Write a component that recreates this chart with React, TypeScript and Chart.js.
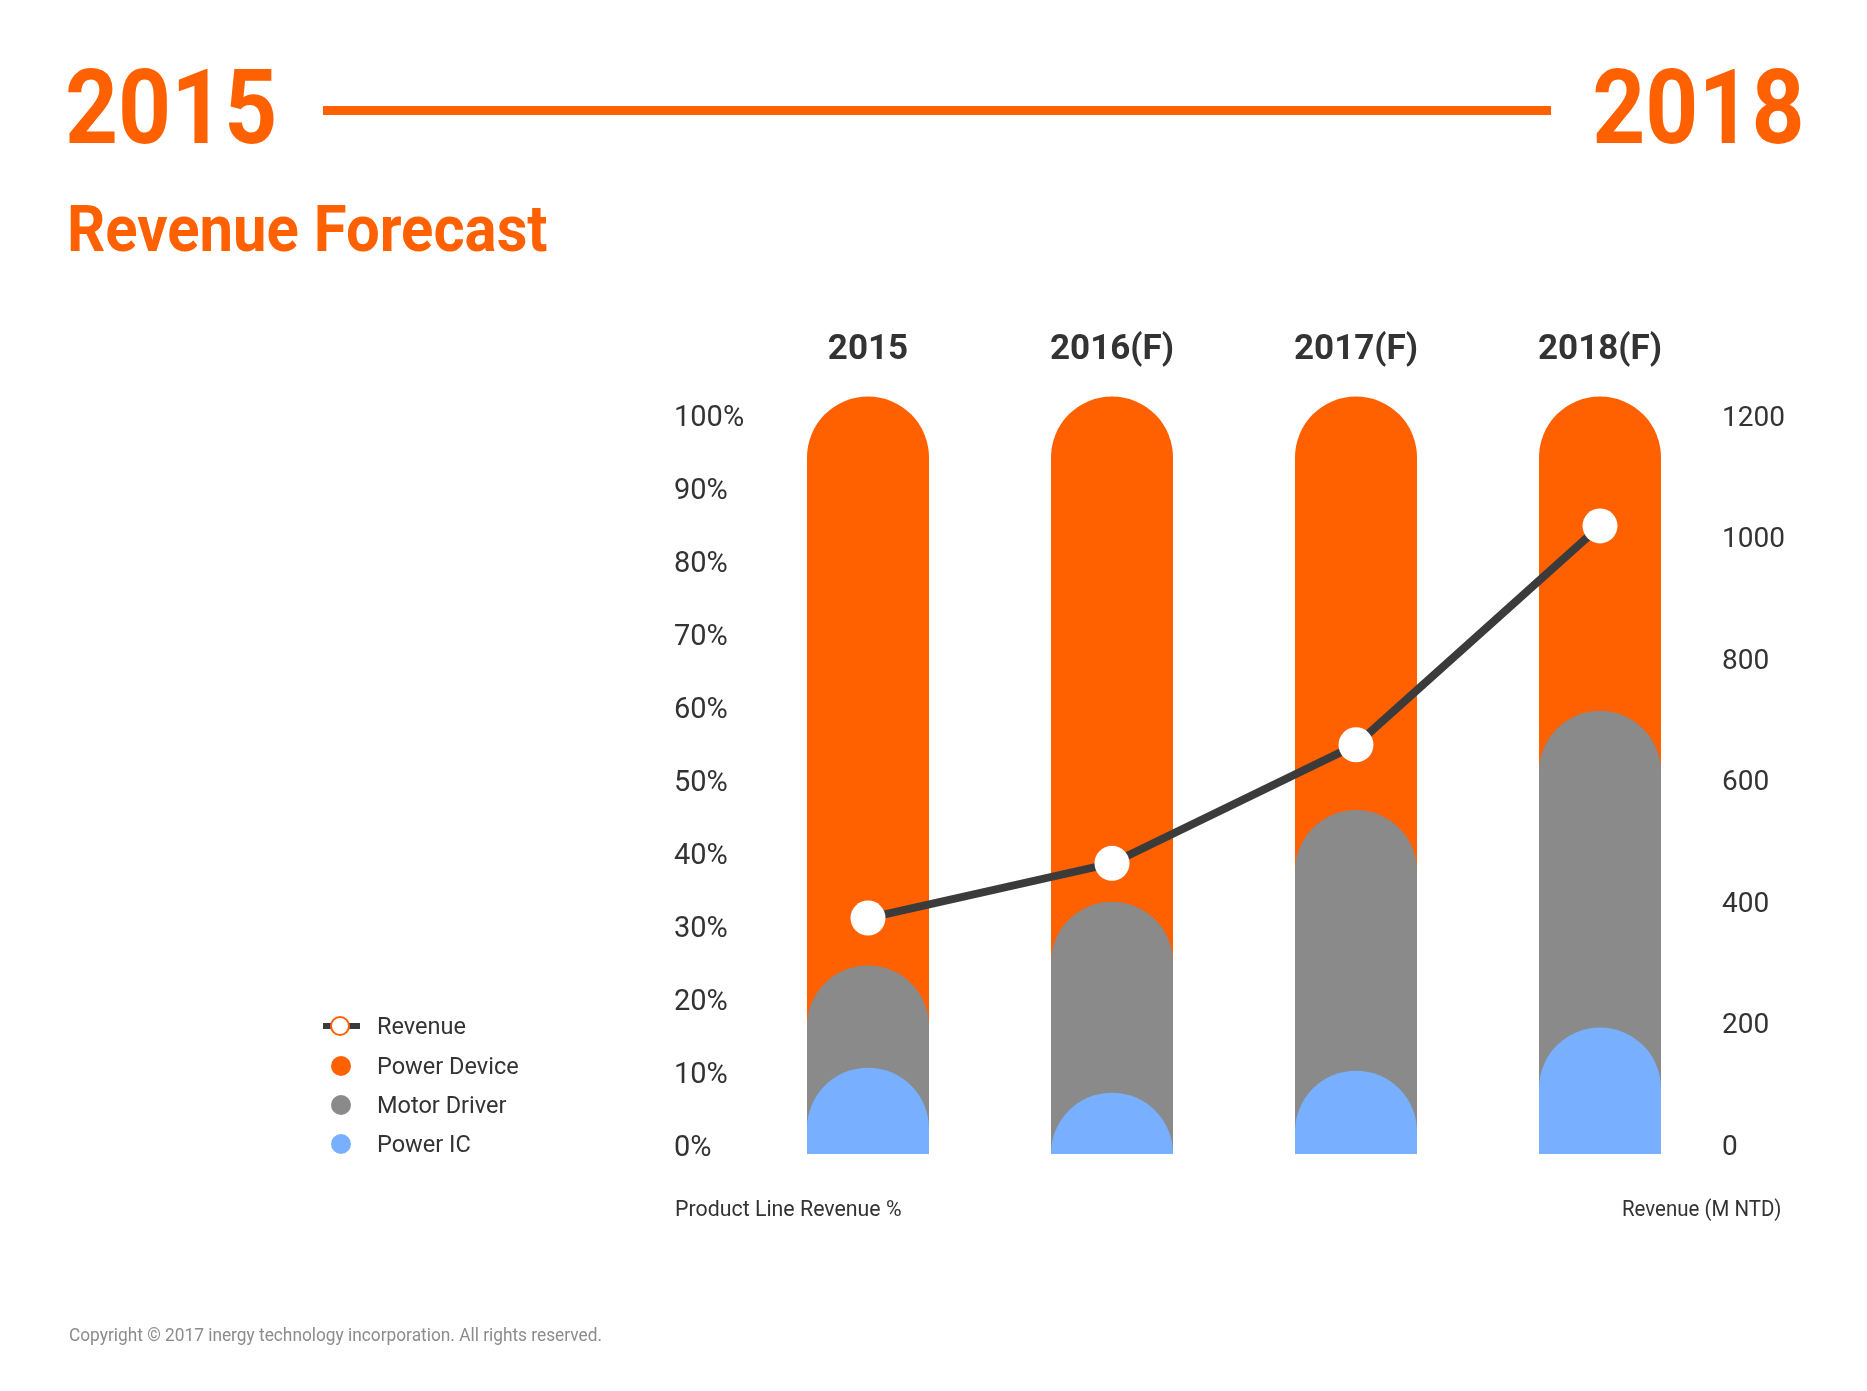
import React, { useEffect, useRef } from 'react';
import { Chart, registerables } from 'chart.js';

Chart.register(...registerables);

// ---- data ----
const categories = ['2015', '2016(F)', '2017(F)', '2018(F)'];
// product line share of revenue (%)
const powerIC = [11.4, 8.1, 11.0, 16.7];
const motorDriver = [13.5, 25.2, 34.4, 41.8];
const powerDevice = [75.1, 66.7, 54.6, 41.5];
// revenue (M NTD)
const revenue = [375, 465, 660, 1020];
const percentTicks = [0, 10, 20, 30, 40, 50, 60, 70, 80, 90, 100];
const revenueTicks = [0, 200, 400, 600, 800, 1000, 1200];

const ORANGE = '#FF6000';
const GREY = '#8A8A8A';
const BLUE = '#78AFFF';
const LINE = '#3B3B3B';
const TEXT = '#333333';
const FONT = 'Roboto, "Noto Sans", sans-serif';

// overlapping bars: each drawn from 0 to the cumulative share
const blueTop = powerIC.map((v) => v);
const greyTop = powerIC.map((v, i) => v + motorDriver[i]);
const orangeTop = powerIC.map((v, i) => v + motorDriver[i] + powerDevice[i]);

const capsulePlugin = {
  id: 'capsuleBars',
  beforeDatasetDraw(chart: any, args: any) {
    const ds = chart.data.datasets[args.index];
    if (ds.type !== 'bar') return;
    const ctx = chart.ctx;
    ctx.save();
    ctx.fillStyle = ds.backgroundColor;
    args.meta.data.forEach((el: any) => {
      const { x, y, base, width } = el.getProps(['x', 'y', 'base', 'width'], true);
      const r = width / 2;
      ctx.beginPath();
      ctx.moveTo(x - r, base);
      ctx.lineTo(x - r, y + r);
      ctx.arc(x, y + r, r, Math.PI, 0);
      ctx.lineTo(x + r, base);
      ctx.closePath();
      ctx.fill();
    });
    ctx.restore();
    return false;
  },
};

const abs = (extra: any): any => ({ position: 'absolute', whiteSpace: 'nowrap', fontFamily: FONT, lineHeight: 1, ...extra });

export default function App() {
  const ref = useRef<HTMLCanvasElement | null>(null);

  useEffect(() => {
    if (!ref.current) return;
    const chart = new Chart(ref.current, {
      type: 'bar',
      data: {
        labels: categories,
        datasets: [
          {
            type: 'line',
            label: 'Revenue',
            data: revenue,
            yAxisID: 'y1',
            borderColor: LINE,
            borderWidth: 8,
            pointRadius: 17.5,
            pointBackgroundColor: '#FFFFFF',
            pointBorderColor: '#FFFFFF',
            pointBorderWidth: 0,
            tension: 0,
            order: 0,
            clip: false,
          } as any,
          {
            type: 'bar',
            label: 'Power IC',
            data: blueTop,
            yAxisID: 'yBar',
            backgroundColor: BLUE,
            grouped: false,
            barThickness: 122,
            order: 1,
          } as any,
          {
            type: 'bar',
            label: 'Motor Driver',
            data: greyTop,
            yAxisID: 'yBar',
            backgroundColor: GREY,
            grouped: false,
            barThickness: 122,
            order: 2,
          } as any,
          {
            type: 'bar',
            label: 'Power Device',
            data: orangeTop,
            yAxisID: 'yBar',
            backgroundColor: ORANGE,
            grouped: false,
            barThickness: 122,
            order: 3,
          } as any,
        ],
      },
      options: {
        responsive: false,
        animation: false,
        devicePixelRatio: 1,
        layout: { padding: { left: 674, right: 0, top: 296.5, bottom: 237 } },
        plugins: { legend: { display: false }, tooltip: { enabled: false } },
        scales: {
          x: {
            position: 'top',
            offset: true,
            grid: { display: false, drawTicks: false },
            border: { display: false },
            ticks: { color: TEXT, font: { family: FONT, size: 35, weight: 'bold' }, padding: 25 },
            afterFit(s: any) { s.height = 100; },
          },
          y: {
            position: 'left',
            min: -1.097,
            max: 102.74,
            grid: { display: false, drawTicks: false },
            border: { display: false },
            ticks: {
              color: TEXT,
              font: { family: FONT, size: 29 },
              crossAlign: 'far',
              autoSkip: false,
              padding: 0,
              labelOffset: 2.5,
              callback: (v: any) => v + '%',
            },
            afterBuildTicks(s: any) { s.ticks = percentTicks.map((v) => ({ value: v })); },
            afterFit(s: any) { s.width = 72; },
          },
          yBar: { display: false, min: 0, max: 100 },
          y1: {
            position: 'right',
            min: -13.16,
            max: 1232.9,
            grid: { display: false, drawTicks: false },
            border: { display: false },
            ticks: {
              color: TEXT,
              font: { family: FONT, size: 28 },
              autoSkip: false,
              padding: 0,
              labelOffset: 2,
              callback: (v: any) => String(v),
            },
            afterBuildTicks(s: any) { s.ticks = revenueTicks.map((v) => ({ value: v })); },
            afterFit(s: any) { s.width = 145; },
          },
        } as any,
      },
      plugins: [capsulePlugin],
    });
    return () => chart.destroy();
  }, []);

  const legendRows = [
    { label: 'Revenue', y: 1026, kind: 'line' },
    { label: 'Power Device', y: 1066, color: ORANGE },
    { label: 'Motor Driver', y: 1105, color: GREY },
    { label: 'Power IC', y: 1144, color: BLUE },
  ];

  return (
    <div style={{ position: 'absolute', left: 0, top: 0, width: 1867, height: 1391, background: '#fff', overflow: 'hidden' }}>
      <canvas ref={ref} width={1867} height={1391} style={{ position: 'absolute', left: 0, top: 0, width: 1867, height: 1391 }} />
      <div style={abs({ left: 65, top: 56, fontSize: 104, fontWeight: 700, color: ORANGE, transform: 'scaleX(0.89)', transformOrigin: 'left top' })}>2015</div>
      <div style={{ position: 'absolute', left: 323, top: 106, width: 1228, height: 9, background: ORANGE }} />
      <div style={abs({ right: 1867 - 1805, top: 56, fontSize: 104, fontWeight: 700, color: ORANGE, transform: 'scaleX(0.89)', transformOrigin: 'right top' })}>2018</div>
      <div style={abs({ left: 67, top: 198, fontSize: 64, fontWeight: 700, color: ORANGE, transform: 'scaleX(0.935)', transformOrigin: 'left top' })}>Revenue Forecast</div>

      {legendRows.map((r) => (
        <React.Fragment key={r.label}>
          {r.kind === 'line' ? (
            <>
              <div style={{ position: 'absolute', left: 323, top: r.y - 3, width: 37, height: 6, background: LINE }} />
              <div style={{ position: 'absolute', left: 330, top: r.y - 10.5, width: 16, height: 16, borderRadius: '50%', background: '#fff', border: `2.5px solid ${ORANGE}` }} />
            </>
          ) : (
            <div style={{ position: 'absolute', left: 331, top: r.y - 10, width: 20, height: 20, borderRadius: '50%', background: r.color }} />
          )}
          <div style={abs({ left: 377, top: r.y - 12, fontSize: 24, color: TEXT, transform: 'scaleX(0.98)', transformOrigin: 'left top' })}>{r.label}</div>
        </React.Fragment>
      ))}

      <div style={abs({ left: 675, top: 1198, fontSize: 22, color: TEXT, transform: 'scaleX(0.97)', transformOrigin: 'left top' })}>Product Line Revenue %</div>
      <div style={abs({ right: 1867 - 1781, top: 1198, fontSize: 22, color: TEXT, transform: 'scaleX(0.93)', transformOrigin: 'right top' })}>Revenue (M NTD)</div>
      <div style={abs({ left: 69, top: 1325, fontSize: 19, color: '#8C8C8C', transform: 'scaleX(0.91)', transformOrigin: 'left top' })}>
        Copyright © 2017 inergy technology incorporation. All rights reserved.
      </div>
    </div>
  );
}
